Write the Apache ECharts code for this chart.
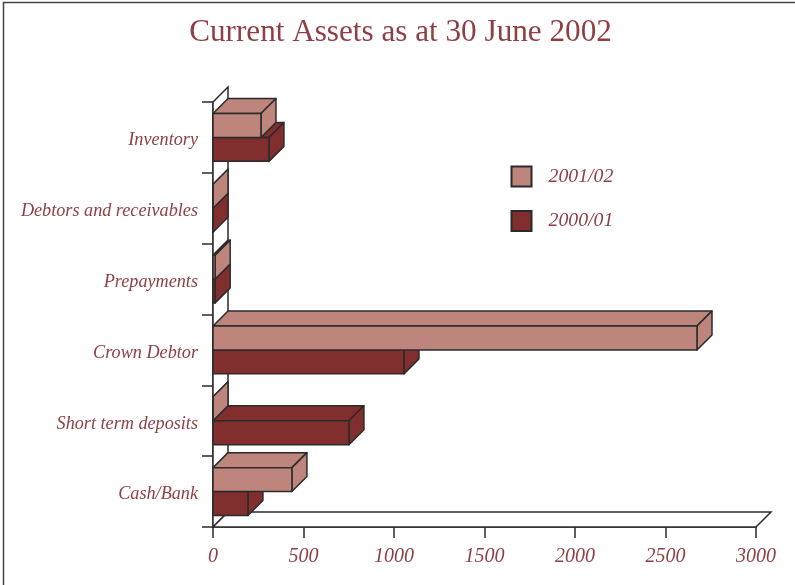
<!DOCTYPE html>
<html>
<head>
<meta charset="utf-8">
<style>html,body{margin:0;padding:0;background:#fff}#chart{width:795px;height:585px}</style>
<script src="https://cdn.jsdelivr.net/npm/echarts@6/dist/echarts.min.js"></script>
</head>
<body>
<div id="chart"></div>
<script>
// Current assets by category, bottom of the chart first
const categories = ['Cash/Bank', 'Short term deposits', 'Crown Debtor', 'Prepayments', 'Debtors and receivables', 'Inventory'];
const values2001 = [436, 0, 2674, 12, 0, 265];
const values2000 = [193, 751, 1055, 12, 0, 309];
const xTicks = [0, 500, 1000, 1500, 2000, 2500, 3000];

const LIGHT = '#bd857c', DARK = '#812f2e', EDGE = '#2b2b2b', TEXT = '#8f3f44';
const SERIF = '"Liberation Serif", serif';
const DEPTH = 15;

// Extruded horizontal box; the two years sit just above and below the band centre
function boxRenderer(above) {
  return function (params, api) {
    const v = api.value(0), cat = api.value(1);
    const base = api.coord([0, cat]);
    const tip = api.coord([v, cat]);
    const band = api.size([0, 1])[1];
    const h = band * 0.338;
    const top = above ? base[1] - h : base[1];
    const bottom = top + h;
    const x0 = base[0], x1 = tip[0];
    const style = { fill: api.visual('color'), stroke: EDGE, lineWidth: 1.5, lineJoin: 'round' };
    const face = pts => ({ type: 'polygon', shape: { points: pts }, style });
    return {
      type: 'group',
      children: [
        face([[x0, top], [x0 + DEPTH, top - DEPTH], [x1 + DEPTH, top - DEPTH], [x1, top]]),
        face([[x1, top], [x1 + DEPTH, top - DEPTH], [x1 + DEPTH, bottom - DEPTH], [x1, bottom]]),
        face([[x0, top], [x1, top], [x1, bottom], [x0, bottom]])
      ]
    };
  };
}

// Back wall edge and floor of the 3D plot box
function wallRenderer(params, api) {
  const o = api.coord([0, 0]);
  const band = api.size([0, 1])[1];
  const x0 = o[0], yTop = o[1] - band * 5.5, yBot = o[1] + band / 2;
  const x1 = api.coord([3000, 0])[0];
  const line = { stroke: EDGE, lineWidth: 1.5, fill: '#fff' };
  return {
    type: 'group',
    children: [
      { type: 'polygon', shape: { points: [[x0, yTop], [x0 + DEPTH, yTop - DEPTH], [x0 + DEPTH, yBot - DEPTH], [x0, yBot]] }, style: line },
      { type: 'polygon', shape: { points: [[x0, yBot], [x0 + DEPTH, yBot - DEPTH], [x1 + DEPTH, yBot - DEPTH], [x1, yBot]] }, style: line }
    ]
  };
}

const chart = echarts.init(document.getElementById('chart'), null, { renderer: 'canvas' });
chart.setOption({
  animation: false,
  backgroundColor: '#fff',
  title: {
    text: 'Current Assets as at 30 June 2002',
    left: 395.5, top: 12, textAlign: 'center',
    textStyle: { fontFamily: SERIF, fontWeight: 'normal', fontSize: 31.2, color: TEXT }
  },
  graphic: [{
    // Page frame: open on the right and running off the bottom
    type: 'polyline', silent: true, z: -1,
    shape: { points: [[3.5, 600], [3.5, 2.5], [800, 2.5]] },
    style: { fill: 'none', stroke: '#444', lineWidth: 1.5 }
  }],
  legend: {
    orient: 'vertical', left: 510.5, top: 165.5, padding: 0,
    itemWidth: 20, itemHeight: 20, itemGap: 22.5,
    icon: 'rect',
    data: ['2001/02', '2000/01'],
    textStyle: { fontFamily: SERIF, fontStyle: 'italic', fontSize: 19.8, color: TEXT, padding: [0, 0, 0, 12] }
  },
  grid: { left: 213, right: 39, top: 102, bottom: 58 },
  xAxis: {
    type: 'value', min: 0, max: 3000, interval: 500,
    axisLine: { show: true, lineStyle: { color: EDGE, width: 1.5 } },
    axisTick: { show: true, length: 11, lineStyle: { color: EDGE, width: 1.5 } },
    splitLine: { show: false },
    axisLabel: { margin: 20, fontFamily: SERIF, fontStyle: 'italic', fontSize: 20, color: TEXT,
      customValues: xTicks, formatter: v => String(v) }
  },
  yAxis: {
    type: 'category', data: categories,
    axisLine: { show: true, lineStyle: { color: EDGE, width: 1.5 } },
    axisTick: { show: true, length: 11, lineStyle: { color: EDGE, width: 1.5 } },
    axisLabel: {
      margin: 15,
      formatter: name => '{name|' + name + '}',
      rich: { name: { fontFamily: SERIF, fontStyle: 'italic', fontSize: 18.2, color: TEXT, padding: [6, 0, 0, 0] } }
    }
  },
  series: [
    { type: 'custom', name: 'walls', silent: true, renderItem: wallRenderer, data: [[0, 0]], z: 1 },
    { type: 'custom', name: '2000/01', renderItem: boxRenderer(false), itemStyle: { color: DARK, borderColor: EDGE, borderWidth: 1.5 },
      encode: { x: 0, y: 1 }, data: values2000.map((v, i) => [v, i]), z: 2 },
    { type: 'custom', name: '2001/02', renderItem: boxRenderer(true), itemStyle: { color: LIGHT, borderColor: EDGE, borderWidth: 1.5 },
      encode: { x: 0, y: 1 }, data: values2001.map((v, i) => [v, i]), z: 3 }
  ]
});
</script>
</body>
</html>
